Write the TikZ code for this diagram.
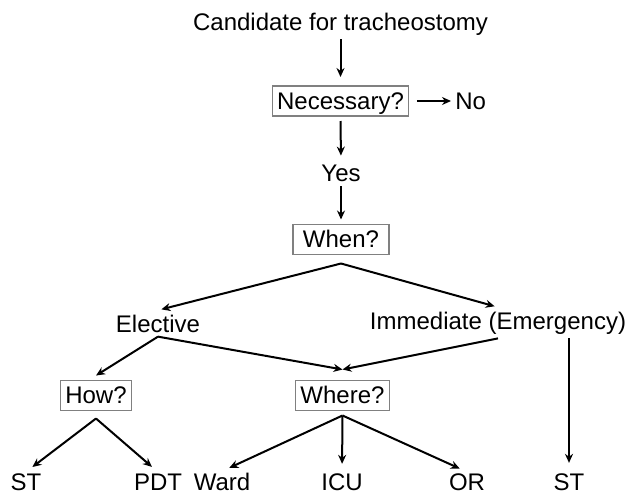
\documentclass[tikz,border=0pt]{standalone}
\usepackage{fontspec}
\setmainfont{Liberation Sans}
\usetikzlibrary{arrows.meta}

\begin{document}
\begin{tikzpicture}[x=0.5pt, y=-0.5pt, font=\fontsize{12}{14}\selectfont,
	lbl/.style = {inner sep=2pt, anchor=base},
	leaf/.style = {lbl, inner ysep=0.5pt},
	box/.style = {draw=gray, line width=0.6pt, inner xsep=2.5pt, inner ysep=1.5pt, text height=10pt, text depth=2pt, outer sep=2.5pt},
	arr/.style = {-{Stealth[length=4.5pt, width=4pt]}, line width=1pt}]
		\useasboundingbox (0,0) rectangle (630,493);
		\node [lbl] (cand) at (340.5, 30) {Candidate for tracheostomy};
		\node [box] (nec) at (340.5, 101) {Necessary?};
		\node [lbl, anchor=base west] (no) at (451, 109.5) {No};
		\node [lbl] (yes) at (341, 181.5) {Yes};
		\node [box, minimum width=48pt] (when) at (341, 239.5) {When?};
		\node [lbl] (elective) at (158, 332) {Elective};
		\node [lbl] (immediate) at (498, 329) {Immediate (Emergency)};
		\node [box] (how) at (96, 395.5) {How?};
		\node [box] (where) at (342.5, 395.5) {Where?};
		\node [leaf] (stl) at (26, 490) {ST};
		\node [leaf] (pdt) at (158, 490) {PDT};
		\node [leaf] (ward) at (222, 490) {Ward};
		\node [leaf] (icu) at (342, 490) {ICU};
		\node [leaf] (or) at (467, 490) {OR};
		\node [leaf] (str) at (569, 490) {ST};
		\coordinate (whenfork) at ([yshift=-2pt]when.south);
		\coordinate (howfork) at ([yshift=-1.5pt]how.south);
		\coordinate (wheremerge) at ([yshift=3pt]where.north);
	% top chain
		\draw [arr, shorten >=2pt] (cand.south) -- (nec.north);
		\draw [arr, shorten <=1.5pt] (nec.east) -- (nec.east -| no.west);
		\draw [arr, shorten >=2.5pt] (nec.south) -- (yes.north);
		\draw [arr] (yes.south) -- (when.north);
	% when
		\draw [arr, shorten >=1.75pt] (whenfork) -- (elective.north);
		\draw [arr, shorten >=1.75pt] (whenfork) -- (immediate.north);
		\draw [arr] (elective.south) -- (how.north);
		\draw [arr] (elective.south) -- (wheremerge);
		\draw [arr] (immediate.south) -- (wheremerge);
		\draw [arr, shorten >=4.5pt] (immediate.south -| str.north) -- (str.north);
	% how, where
		\draw [arr, shorten >=4pt] (howfork) -- (stl.north);
		\draw [arr, shorten >=4pt] (howfork) -- (pdt.north);
		\draw [arr, shorten >=4pt] (where.south) -- (ward.north);
		\draw [arr, shorten >=4pt] (where.south) -- (icu.north);
		\draw [arr, shorten >=4pt] (where.south) -- (or.north);
\end{tikzpicture}
\end{document}
